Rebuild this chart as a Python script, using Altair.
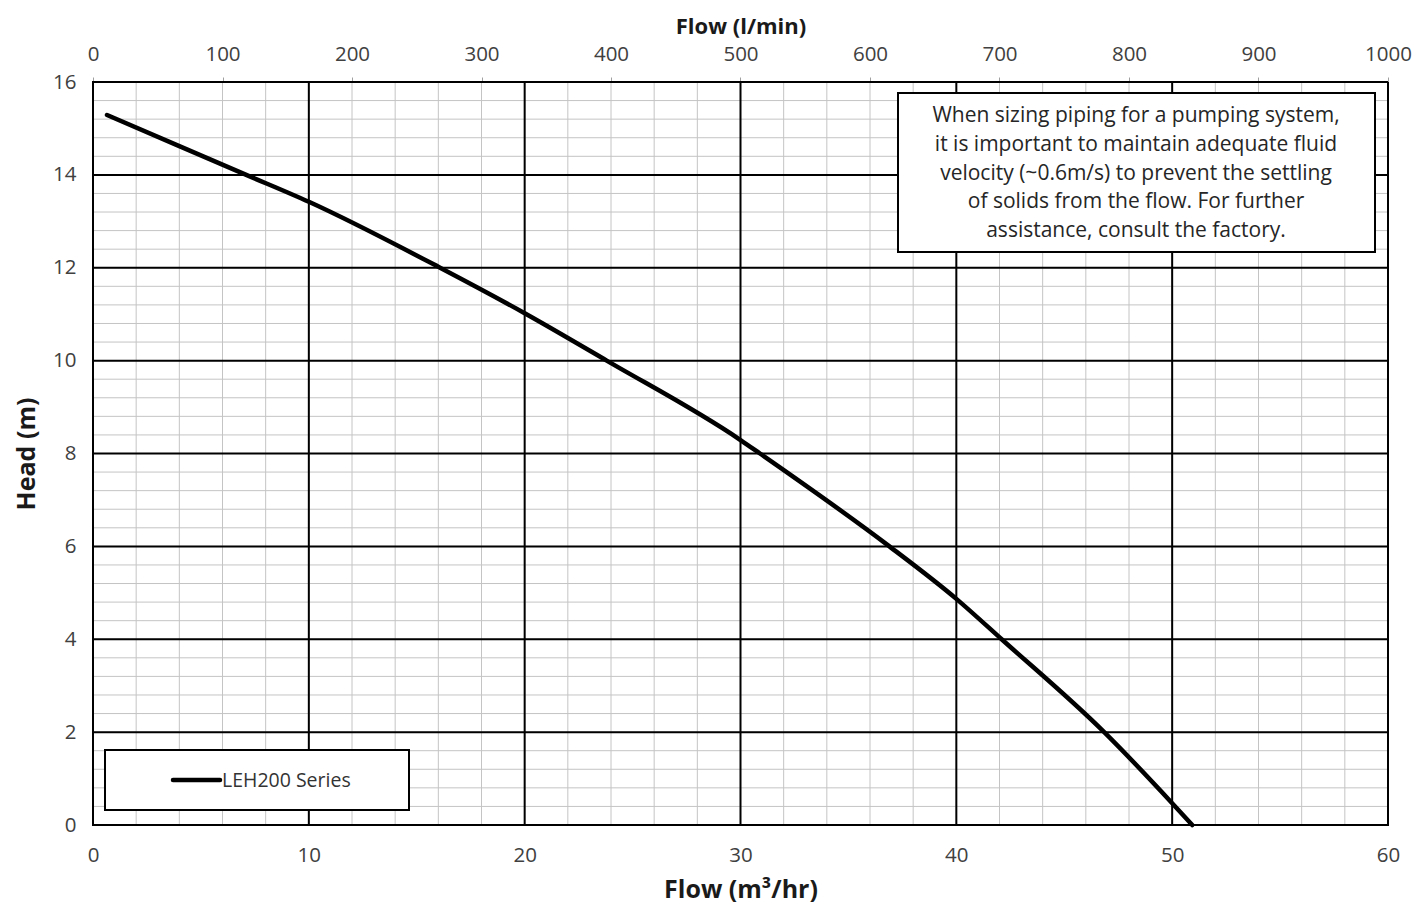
import altair as alt
import pandas as pd

# ---- data ----
flow_m3hr = [0.65, 7.1, 10.0, 16.08, 20.0, 23.8, 30.0, 30.9, 36.9, 40.0, 42.1, 46.85, 50.0, 50.93]
head_m = [15.29, 14.0, 13.42, 12.0, 11.02, 10.0, 8.29, 8.0, 6.0, 4.87, 4.0, 2.0, 0.47, 0.0]
series_name = "LEH200 Series"

x_major = [0, 10, 20, 30, 40, 50, 60]
y_major = [0, 2, 4, 6, 8, 10, 12, 14, 16]
x_minor = [i * 2 for i in range(31)]
y_minor = [round(i * 0.4, 1) for i in range(41)]
lmin_ticks = [0, 100, 200, 300, 400, 500, 600, 700, 800, 900, 1000]

note_lines = [
    "When sizing piping for a pumping system,",
    "it is important to maintain adequate fluid",
    "velocity (~0.6m/s) to prevent the settling",
    "of solids from the flow. For further",
    "assistance, consult the factory.",
]

FONT = "Open Sans"
W, H = 1295, 743
LMIN_PER_M3HR = 1000 / 60

xs = alt.Scale(domain=[0, 60], nice=False, zero=False)
ys = alt.Scale(domain=[0, 16], nice=False, zero=False)

curve = pd.DataFrame({"flow": flow_m3hr, "head": head_m})
one = pd.DataFrame({"k": [0]})

minor_v = alt.Chart(pd.DataFrame({"x": x_minor})).mark_rule(color="#c4c4c4", strokeWidth=1).encode(
    x=alt.X("x:Q", scale=xs, axis=None))
minor_h = alt.Chart(pd.DataFrame({"y": y_minor})).mark_rule(color="#c4c4c4", strokeWidth=1).encode(
    y=alt.Y("y:Q", scale=ys, axis=None))

major_v = alt.Chart(pd.DataFrame({"x": x_major})).mark_rule(color="black", strokeWidth=2).encode(
    x=alt.X("x:Q", scale=xs,
            axis=alt.Axis(values=x_major, title="Flow (m³/hr)", orient="bottom", ticks=False, domain=False,
                          grid=False, labelFlush=False, labelFontSize=20.5, labelPadding=20,
                          labelColor="#404040", labelFont=FONT, titleFont=FONT, titleFontSize=25,
                          titleFontWeight="bold", titleColor="#1a1a1a", titlePadding=12)))
major_h = alt.Chart(pd.DataFrame({"y": y_major})).mark_rule(color="black", strokeWidth=2).encode(
    y=alt.Y("y:Q", scale=ys,
            axis=alt.Axis(values=y_major, title="Head (m)", orient="left", ticks=False, domain=False,
                          grid=False, labelFlush=False, labelFontSize=20.5, labelPadding=17,
                          labelColor="#404040", labelFont=FONT, titleFont=FONT, titleFontSize=25,
                          titleFontWeight="bold", titleColor="#1a1a1a", titlePadding=13)))

top_axis = alt.Chart(pd.DataFrame({"lmin": lmin_ticks})).transform_calculate(
    flow=f"datum.lmin / {LMIN_PER_M3HR}"
).mark_point(opacity=0).encode(
    x=alt.X("flow:Q", scale=xs,
            axis=alt.Axis(orient="top", values=[v / LMIN_PER_M3HR for v in lmin_ticks],
                          labelExpr=f"format(round(datum.value * {LMIN_PER_M3HR}), 'd')",
                          title="Flow (l/min)", domain=False, grid=False, ticks=True, tickSize=5,
                          tickColor="#a0a0a0", labelFlush=False, labelFontSize=20.5, labelPadding=13,
                          labelColor="#404040", labelFont=FONT, titleFont=FONT, titleFontSize=22,
                          titleFontWeight="bold", titleColor="#1a1a1a", titlePadding=6)),
    y=alt.value(0))

line = alt.Chart(curve).mark_line(color="black", strokeWidth=4.5, interpolate="monotone", strokeCap="round").encode(
    x=alt.X("flow:Q", scale=xs, axis=None),
    y=alt.Y("head:Q", scale=ys, axis=None))

legend_box = alt.Chart(one).mark_rect(fill="white", stroke="black", strokeWidth=2).encode(
    x=alt.value(12), x2=alt.value(316), y=alt.value(668), y2=alt.value(728))
legend_line = alt.Chart(one).mark_rule(color="black", strokeWidth=4.5, strokeCap="round").encode(
    x=alt.value(80), x2=alt.value(127), y=alt.value(698))
legend_text = alt.Chart(pd.DataFrame({"t": [series_name]})).mark_text(
    align="left", baseline="middle", fontSize=19.5, font=FONT, color="#333333").encode(
    x=alt.value(129), y=alt.value(699), text="t:N")

note_box = alt.Chart(one).mark_rect(fill="white", stroke="black", strokeWidth=2).encode(
    x=alt.value(805), x2=alt.value(1282), y=alt.value(11), y2=alt.value(170))
note_text = alt.Chart(one).mark_text(
    align="center", baseline="middle", fontSize=21, font=FONT, color="#262626", lineHeight=28.8).encode(
    x=alt.value(1043), y=alt.value(34), text=alt.value(note_lines))

chart = alt.layer(minor_v, minor_h, major_v, major_h, top_axis, line, legend_box, legend_line, legend_text,
                  note_box, note_text).resolve_axis(y="independent").properties(
    width=W, height=H,
    autosize=alt.AutoSizeParams(type="none"),
    padding={"left": 85, "top": 74, "right": 30, "bottom": 88},
    background="white",
).configure_view(stroke="black", strokeWidth=2)

chart.save("out.html", embed_options={"renderer": "svg", "actions": False})
